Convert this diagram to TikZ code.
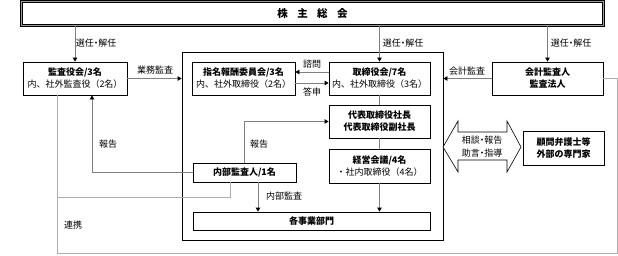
\documentclass[tikz,border=0pt]{standalone}
\usepackage{fontspec}
\setmainfont{Noto Sans CJK JP}
\usetikzlibrary{arrows.meta}

\begin{document}
\begin{tikzpicture}[x=1pt, y=-1pt,
    box/.style={draw, line width=0.8pt, fill=white, align=center, inner sep=0pt,
      font=\fontsize{9}{12}\selectfont},
    conn/.style={draw=black!50, line width=0.8pt},
    arr/.style={conn, -{Triangle[length=4pt, width=4.5pt, color=black]}},
    link/.style={draw=black!32, line width=0.8pt},
    lbl/.style={font=\fontsize{9}{11}\selectfont, inner sep=0pt}]
  \useasboundingbox (0,0) rectangle (618,255);

  \node[draw, line width=0.8pt, minimum width=261pt, minimum height=188pt, inner sep=0pt] (frame) at (312.5,146) {};

  \node[box, minimum width=582pt, minimum height=24pt, line width=0.5pt, double=black!40, double distance=1.6pt]
    (gm) at (312.5,13.5) {\fontsize{10.5}{12}\selectfont\bfseries 株\hspace{0.9em}主\hspace{0.9em}総\hspace{0.9em}会};

  \node[box, minimum width=104pt, minimum height=33pt] (audit) at (75,78.5) {\textbf{監査役会/3名}\\内、社外監査役（2名）};
  \node[box, minimum width=103pt, minimum height=33pt] (nom) at (243.5,78.5) {\textbf{指名報酬委員会/3名}\\内、社外取締役（2名）};
  \node[box, minimum width=101pt, minimum height=33pt] (board) at (379.5,78.5) {\textbf{取締役会/7名}\\内、社外取締役（3名）};
  \node[box, minimum width=101pt, minimum height=33pt] (rep) at (379.5,121.5) {\textbf{代表取締役社長}\\\textbf{代表取締役副社長}};
  \node[box, minimum width=101pt, minimum height=34pt] (mgmt) at (379.5,166) {\textbf{経営会議/4名}\\・社内取締役（4名）};
  \node[box, minimum width=103pt, minimum height=19pt] (ia) at (244.5,172.5) {\textbf{内部監査人/1名}};
  \node[box, minimum width=237pt, minimum height=18pt] (depts) at (311.5,221) {\textbf{各事業部門}};
  \node[box, minimum width=111pt, minimum height=33pt] (acct) at (547.5,78.5) {\textbf{会計監査人}\\\textbf{監査法人}};
  \node[box, minimum width=81pt, minimum height=34pt] (adv) at (563.5,148) {\textbf{顧問弁護士等}\\\textbf{外部の専門家}};

  \draw[line width=0.6pt, fill=white] (443,147) -- (458,121) -- (458,132) -- (507,132) -- (507,121) -- (521,147)
    -- (507,172) -- (507,160) -- (458,160) -- (458,172) -- cycle;
  \node[lbl, align=center, font=\fontsize{9}{13}\selectfont] (talk) at (482,146.5)
    {相談\hspace{-0.25em}・\hspace{-0.25em}報告\\助言\hspace{-0.25em}・\hspace{-0.25em}指導};

  \draw[arr] (audit.north |- gm.south) -- (audit.north);
  \draw[arr] (board.north |- gm.south) -- (board.north);
  \draw[arr] (acct.north |- gm.south) -- (acct.north);
  \node[lbl] (sel1) at (96,43) {選任\hspace{-0.25em}・\hspace{-0.25em}解任};
  \node[lbl] (sel2) at (403,43) {選任\hspace{-0.25em}・\hspace{-0.25em}解任};
  \node[lbl] (sel3) at (571,43) {選任\hspace{-0.25em}・\hspace{-0.25em}解任};

  \draw[arr] (audit.east) -- (audit.east -| frame.west);
  \node[lbl] (opaudit) at (155,70) {業務監査};
  \draw[arr] (acct.west) -- (acct.west -| frame.east);
  \node[lbl] (acaudit) at (467,71) {会計監査};

  \draw[arr] ([yshift=6.5pt]board.west) -- ([yshift=6.5pt]nom.east);
  \node[lbl] (consult) at (312,64) {諮問};
  \draw[arr] ([yshift=-4.5pt]nom.east) -- ([yshift=-4.5pt]board.west);
  \node[lbl] (answer) at (312,92) {答申};

  \draw[conn] (board.south) -- (rep.north);
  \draw[conn] (rep.south) -- (mgmt.north);
  \draw[arr] (mgmt.south) -- (mgmt.south |- depts.north);
  \draw[arr] ([xshift=13.5pt]ia.south) -- ([xshift=13.5pt]ia.south |- depts.north);
  \node[lbl] (iaudit) at (284,196) {内部監査};

  \draw[arr] (ia.north) |- (rep.west);
  \node[lbl] (rep2) at (259,144) {報告};
  \draw[arr] (ia.west) -| ([xshift=17pt]audit.south);
  \node[lbl] (rep1) at (108,144) {報告};

  \coordinate (loopr) at (617,253);
  \coordinate (iajoin) at (57,197);
  \draw[link] ([xshift=-18pt]audit.south) |- (loopr) |- (acct.east);
  \draw[link] ([xshift=-14.5pt]ia.south) |- (iajoin);
  \node[lbl] (coop) at (73,225) {連携};
\end{tikzpicture}
\end{document}
